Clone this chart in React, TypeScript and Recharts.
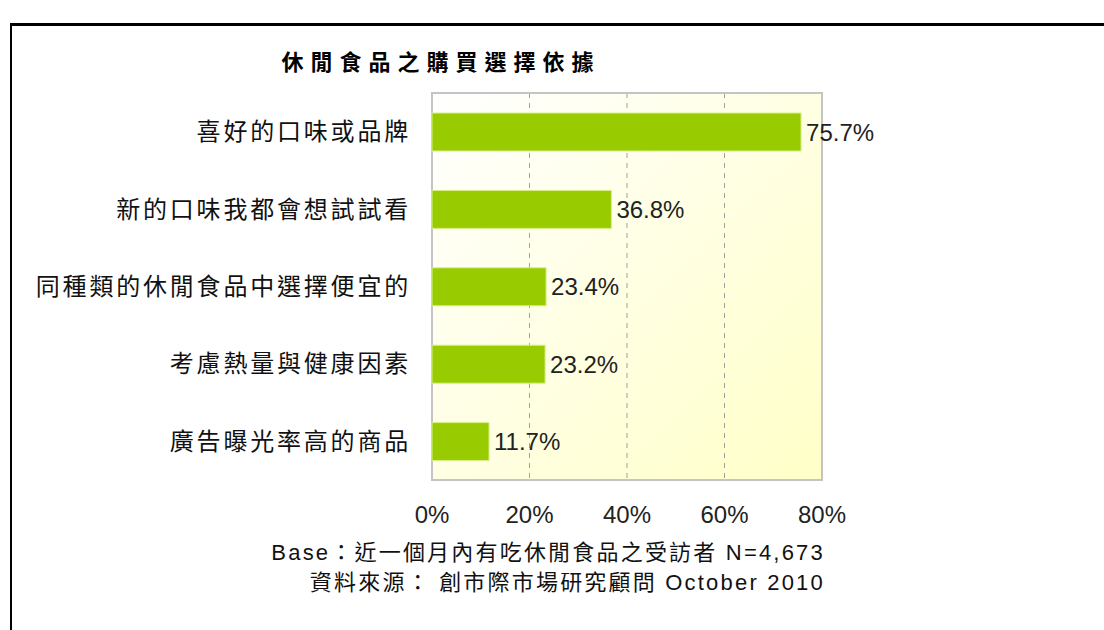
import { BarChart, Bar, XAxis, YAxis, CartesianGrid, ReferenceArea, LabelList } from "recharts";

const categories = [
    "喜好的口味或品牌",
    "新的口味我都會想試試看",
    "同種類的休閒食品中選擇便宜的",
    "考慮熱量與健康因素",
    "廣告曝光率高的商品",
];
const shares = [75.7, 36.8, 23.4, 23.2, 11.7];
const xTicks = [0, 20, 40, 60, 80];
// boundaries between category bands, where the small left ticks sit
const bandEdges = [1, 2, 3, 4];

const chartTitle = "休閒食品之購買選擇依據";
const baseNote = "Base：近一個月內有吃休閒食品之受訪者 N=4,673";
const sourceNote = "資料來源： 創市際市場研究顧問 October 2010";

const FONT = "'Liberation Sans', Arial, 'Noto Sans CJK TC', sans-serif";

export default function App() {
    const chartData = categories.map((name, i) => ({ name, value: shares[i] }));

    const noteStyle = {
        position: "absolute" as const, right: 1104 - 825, textAlign: "right" as const, whiteSpace: "nowrap" as const,
        fontSize: 22, letterSpacing: 2.2, color: "#111", lineHeight: "30px"
    };

    return (
        <div style={{ position: "absolute", left: 0, top: 0, width: 1104, height: 630, background: "#fff", overflow: "hidden", fontFamily: FONT }}>
            {/* frame of the original page */}
            <div style={{ position: "absolute", left: 10, top: 23, width: 1200, height: 700, borderTop: "3px solid #000", borderLeft: "2px solid #000" }} />

            <div style={{
                position: "absolute", left: 241, width: 400, top: 45, textAlign: "center",
                fontFamily: "'Noto Sans CJK TC', sans-serif", fontWeight: 700, fontSize: 22, letterSpacing: 7, color: "#000", lineHeight: "30px"
            }}>
                {chartTitle}
            </div>

            <div style={{ position: "absolute", left: 0, top: 0 }}>
                <BarChart
                    width={1104}
                    height={630}
                    data={chartData}
                    layout="vertical"
                    barCategoryGap="50%"
                    margin={{ top: 93, right: 282, bottom: 120, left: 0 }}
                >
                    <defs>
                        <linearGradient id="plotBg" x1="0" y1="0" x2="1" y2="1">
                            <stop offset="0%" stopColor="#ffffff" />
                            <stop offset="100%" stopColor="#ffffc8" />
                        </linearGradient>
                    </defs>
                    <CartesianGrid horizontal={false} stroke="#a0a0a0" strokeDasharray="5 5" fill="url(#plotBg)" fillOpacity={1} />
                    <XAxis
                        type="number"
                        domain={[0, 80]}
                        ticks={xTicks}
                        tickFormatter={(v: number) => `${v}%`}
                        axisLine={false}
                        tickLine={false}
                        tickSize={0}
                        tickMargin={26}
                        height={30}
                        tick={{ fontSize: 24, fill: "#222", fontFamily: FONT }}
                    />
                    <YAxis
                        type="category"
                        dataKey="name"
                        width={432}
                        axisLine={false}
                        tickLine={false}
                        tickSize={0}
                        tickMargin={21}
                        tick={{ fontSize: 24, fill: "#111", letterSpacing: 2.8, fontFamily: "'Noto Sans CJK TC', sans-serif" }}
                    />
                    <YAxis
                        yAxisId="edges"
                        type="number"
                        domain={[0, 5]}
                        ticks={bandEdges}
                        width={0}
                        axisLine={false}
                        tick={false}
                        tickSize={-5}
                        tickLine={{ stroke: "#b0b0b0" }}
                    />
                    <ReferenceArea x1={0} x2={80} fill="none" stroke="#c4c4c4" strokeWidth={2} ifOverflow="visible" />
                    <Bar dataKey="value" fill="#99cc00" stroke="#d8ef8a" strokeWidth={1} barSize={38} isAnimationActive={false}>
                        <LabelList
                            dataKey="value"
                            position="right"
                            offset={5}
                            formatter={(v: number) => `${v}%`}
                            style={{ fontSize: 24, fill: "#222", fontFamily: FONT }}
                        />
                    </Bar>
                </BarChart>
            </div>

            <div style={{ ...noteStyle, top: 538 }}>{baseNote}</div>
            <div style={{ ...noteStyle, top: 568 }}>{sourceNote}</div>
        </div>
    );
}
